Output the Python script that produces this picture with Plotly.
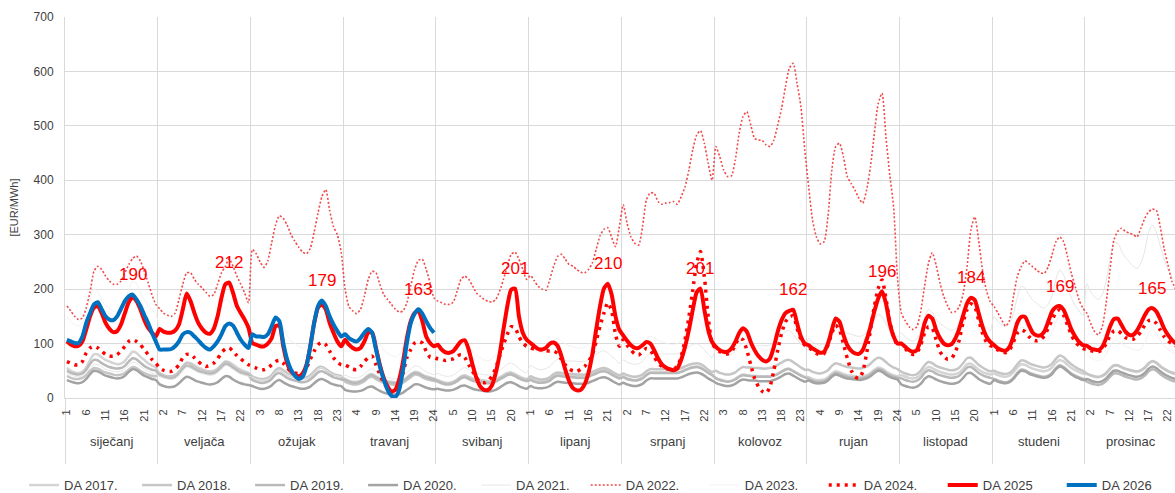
import plotly.graph_objects as go

months = ["siječanj", "veljača", "ožujak", "travanj", "svibanj", "lipanj",
          "srpanj", "kolovoz", "rujan", "listopad", "studeni", "prosinac"]
hours = list(range(1, 25))

da_2017 = [
    [55,50,47,46,48,56,70,80,80,75,70,67,64,62,63,68,77,85,83,76,70,64,60,56],
    [45,41,39,38,40,47,58,65,64,60,56,53,50,49,50,54,61,67,66,61,56,52,49,46],
    [38,35,33,33,35,40,48,52,48,43,40,38,36,35,36,40,47,54,56,52,47,43,41,39],
    [35,32,30,30,32,36,42,44,40,36,33,31,30,29,30,33,38,44,48,47,43,40,38,36],
    [33,30,28,28,30,34,40,42,39,36,34,33,32,31,32,34,38,42,46,47,44,40,37,35],
    [36,33,31,31,32,35,41,44,43,42,41,41,40,40,40,42,45,48,51,52,50,46,42,39],
    [40,36,34,33,34,37,43,47,47,47,47,47,47,47,47,49,52,55,57,58,56,52,47,43],
    [37,34,32,31,32,35,40,43,42,41,41,40,40,40,40,42,45,49,53,54,50,46,42,39],
    [38,35,33,33,34,38,45,49,47,44,42,41,40,39,40,42,46,52,56,54,49,45,42,40],
    [42,39,37,36,38,43,52,57,55,51,48,46,44,43,44,47,54,62,63,58,52,48,45,43],
    [45,42,40,39,41,47,56,62,61,57,54,52,50,49,51,56,65,70,67,61,55,51,48,45],
    [44,41,39,38,40,45,53,59,59,56,53,51,49,48,50,55,63,67,64,58,53,49,46,44],
]
da_2018 = [
    [40,37,35,35,37,42,50,55,54,50,47,45,43,42,43,46,52,57,55,50,46,43,41,40],
    [45,42,40,40,42,48,58,64,62,57,53,50,48,47,48,52,60,66,64,58,53,49,47,45],
    [40,37,35,35,37,42,51,55,51,46,42,40,38,37,38,42,49,56,57,53,48,44,42,40],
    [30,27,25,25,27,31,37,39,35,31,28,26,25,24,25,28,33,38,43,42,38,35,33,31],
    [32,29,27,27,29,33,38,40,37,34,32,31,30,29,30,32,36,40,44,45,42,38,35,33],
    [40,37,35,34,35,38,44,47,46,45,44,44,43,43,43,45,48,51,54,55,53,49,45,42],
    [45,42,40,39,40,43,49,53,53,53,53,53,53,53,53,55,58,61,63,64,62,58,52,48],
    [50,46,44,43,44,47,53,57,56,56,55,55,54,54,55,57,61,65,69,70,66,61,56,52],
    [52,48,46,45,47,51,59,64,62,59,57,56,55,54,55,58,63,70,74,72,66,60,56,53],
    [48,45,43,42,44,50,60,66,64,59,56,54,52,51,52,56,64,73,74,68,61,56,52,49],
    [50,47,45,44,46,52,62,69,68,64,61,59,57,56,58,63,72,78,75,68,62,57,53,50],
    [45,42,40,39,41,46,54,60,60,57,54,52,50,49,51,56,64,68,65,59,54,50,47,45],
]
da_2019 = [
    [50,46,44,43,45,52,63,70,69,64,60,57,55,54,55,59,67,73,71,65,59,55,52,50],
    [42,39,37,36,38,44,53,59,57,53,49,47,45,44,45,49,56,62,60,55,50,46,44,42],
    [33,30,28,28,30,35,43,46,42,37,34,32,30,29,30,34,40,47,49,46,42,38,36,34],
    [33,30,28,28,30,34,40,42,38,34,31,29,28,27,28,31,36,42,46,45,41,38,36,34],
    [30,27,25,25,27,31,36,38,35,32,30,29,28,27,28,30,34,38,42,43,40,36,33,31],
    [33,30,28,28,29,32,38,41,40,39,38,38,37,37,37,39,42,45,48,49,47,43,39,36],
    [38,35,33,32,33,36,42,46,46,46,46,46,46,46,46,48,51,54,56,57,55,51,46,42],
    [36,33,31,30,31,34,39,42,41,40,40,39,39,39,39,41,44,48,52,53,49,45,41,38],
    [35,32,30,30,31,35,42,46,44,41,39,38,37,36,37,39,43,49,53,51,46,42,39,37],
    [36,33,31,30,32,37,46,51,49,45,42,40,38,37,38,41,48,56,57,52,46,42,39,37],
    [35,32,30,29,31,37,46,52,51,47,44,42,40,39,41,46,55,60,57,51,45,41,38,35],
    [30,27,25,24,26,31,39,45,45,42,39,37,35,34,36,41,49,53,50,44,39,35,32,30],
]
da_2020 = [
    [33,30,28,27,29,35,44,50,49,45,41,39,37,36,37,41,48,53,51,46,41,38,35,33],
    [25,22,20,20,22,27,34,39,37,33,30,28,26,25,26,29,35,40,39,34,30,27,25,24],
    [22,19,17,17,19,23,30,33,29,25,22,20,18,17,18,21,27,33,35,32,28,25,23,22],
    [15,13,12,12,13,16,20,21,17,13,10,8,7,6,7,10,15,20,25,25,22,19,17,16],
    [17,15,14,14,15,18,22,23,20,17,15,14,13,12,13,15,19,24,28,29,26,22,19,17],
    [22,19,18,18,19,22,27,30,29,28,27,27,26,26,26,28,31,34,37,38,36,32,28,25],
    [28,25,23,22,23,26,32,36,36,36,36,36,36,36,36,38,41,44,46,47,45,41,36,32],
    [28,25,23,22,23,26,31,34,33,32,32,31,31,31,31,33,36,40,44,45,41,37,33,30],
    [32,29,27,27,28,32,39,43,41,38,36,35,34,33,34,36,40,46,50,48,43,39,36,34],
    [25,22,20,19,21,26,35,40,38,34,31,29,27,26,27,30,37,45,46,41,35,31,28,26],
    [33,30,28,27,29,35,44,50,49,45,42,40,38,37,39,44,53,58,55,49,43,39,36,33],
    [35,32,30,29,31,36,44,50,50,47,44,42,40,39,41,46,54,58,55,49,44,40,37,35],
]
da_2021 = [
    [45,42,40,39,41,47,56,62,61,57,53,51,49,48,49,53,60,66,64,58,53,49,46,44],
    [40,37,35,34,36,42,51,57,55,51,47,45,43,42,43,47,54,60,58,53,48,44,42,40],
    [38,35,33,33,35,40,48,52,48,43,40,38,36,35,36,40,47,54,56,52,47,43,41,39],
    [42,39,37,37,39,44,51,54,49,44,40,38,36,35,36,40,46,53,59,58,53,48,45,43],
    [45,42,40,40,42,47,53,56,52,48,45,44,43,42,43,46,51,56,62,64,60,54,49,46],
    [60,56,53,52,54,58,66,71,70,69,68,68,67,67,67,70,75,80,85,87,83,77,70,64],
    [70,66,63,62,63,67,76,81,81,81,81,81,81,81,81,84,89,94,98,100,96,89,80,74],
    [90,85,81,79,81,86,95,101,99,98,97,96,96,96,97,100,107,115,122,124,117,108,99,93],
    [110,103,99,97,100,108,124,133,129,123,119,117,115,113,115,120,130,145,155,150,138,126,118,112],
    [120,112,107,104,109,122,148,163,157,145,137,132,127,124,127,137,157,182,186,170,152,139,129,123],
    [150,140,134,131,137,155,185,205,202,190,180,174,168,165,172,188,218,236,226,204,184,170,160,152],
    [210,195,186,181,190,215,255,285,285,270,258,250,242,238,248,270,305,318,305,280,255,236,222,212],
]
da_2022 = [
    [169,160,150,144,147,166,195,233,242,236,224,215,209,209,215,230,245,256,261,252,233,212,190,172],
    [164,156,152,150,156,181,209,230,230,218,209,202,194,187,190,209,230,242,256,242,224,209,193,175],
    [273,265,250,240,252,285,318,335,330,318,300,288,277,268,265,275,305,340,370,383,345,315,300,268],
    [200,168,160,155,163,187,218,233,230,209,190,181,172,163,158,160,175,206,236,253,255,236,212,184],
    [178,175,172,172,176,196,218,224,218,206,193,187,181,178,176,181,196,218,242,264,268,255,236,218],
    [225,215,205,200,198,218,242,260,264,255,245,242,236,231,230,236,248,273,298,310,313,295,278,315],
    [355,321,296,284,281,315,364,377,376,361,356,358,359,361,356,370,388,419,456,483,491,468,431,400],
    [462,443,419,407,408,437,486,517,526,502,477,474,473,465,462,474,502,532,572,606,615,578,535,456],
    [388,327,296,283,287,333,419,462,468,443,407,394,382,367,358,382,425,486,541,560,480,410,350,220],
    [156,142,131,126,131,159,205,247,267,244,211,186,169,157,159,168,192,241,309,333,290,235,198,177],
    [168,156,143,132,143,186,223,241,252,247,241,235,230,229,241,263,287,296,287,260,229,205,180,165],
    [156,137,122,116,131,174,235,290,306,312,306,303,300,296,312,330,342,347,345,315,275,245,215,200],
]
da_2023 = [
    [150,140,135,132,138,155,185,200,195,180,170,165,160,158,162,175,200,215,210,195,180,170,162,155],
    [130,122,118,116,120,135,160,172,165,150,140,135,130,128,132,145,168,182,178,165,152,144,138,132],
    [110,102,98,96,100,112,135,142,130,115,105,100,95,92,95,108,128,145,148,138,125,117,112,108],
    [105,98,95,93,96,105,122,125,112,98,88,82,78,76,80,92,110,128,138,135,125,115,110,106],
    [90,84,80,79,82,90,103,105,95,85,78,74,70,68,72,80,95,110,122,125,115,105,98,93],
    [95,88,84,83,85,92,105,110,105,100,96,94,92,91,93,98,108,120,132,138,130,118,108,100],
    [100,92,88,86,88,95,108,114,110,106,103,101,99,98,100,106,118,132,145,150,140,125,113,105],
    [95,88,84,82,84,91,103,108,103,98,94,91,89,88,90,97,110,125,140,145,135,120,108,100],
    [105,98,94,92,95,104,120,128,122,115,110,107,104,102,105,112,125,142,152,148,135,122,113,107],
    [100,93,89,87,90,100,118,128,124,116,110,106,102,100,104,114,132,150,152,140,126,115,107,102],
    [100,94,90,88,91,102,120,130,128,120,114,110,106,104,108,120,140,152,146,132,120,111,105,101],
    [80,74,70,68,71,80,95,105,105,100,95,92,89,87,90,100,118,125,118,106,96,89,84,81],
]
da_2024 = [
    [67,64,61,61,67,83,92,95,92,86,80,77,77,80,86,95,104,107,104,98,89,80,71,64],
    [55,51,49,49,53,61,74,80,80,74,67,61,58,60,64,72,83,90,92,86,78,72,66,61],
    [58,55,52,52,55,61,67,69,64,55,49,46,45,47,55,71,86,98,102,98,86,74,66,61],
    [61,57,53,52,58,67,74,77,61,43,28,18,12,12,25,46,74,89,101,104,101,86,75,74],
    [72,71,69,71,72,77,80,74,61,49,37,29,28,31,40,55,77,98,117,131,129,113,101,95],
    [92,90,89,88,87,86,86,82,71,61,53,50,49,53,58,67,80,104,132,156,175,160,117,95],
    [107,97,88,81,79,85,91,88,76,64,58,54,53,53,58,76,107,149,198,247,269,223,149,100],
    [91,85,82,81,85,97,110,107,88,61,36,21,12,9,21,51,88,119,140,149,151,128,108,97],
    [94,87,82,79,82,97,119,134,125,100,73,51,39,36,48,82,125,168,201,217,183,140,113,97],
    [100,91,83,80,83,97,119,131,128,107,85,76,71,73,85,107,140,162,173,168,143,119,103,96],
    [94,88,85,83,88,103,119,125,122,113,107,105,107,114,128,143,157,162,152,134,116,103,96,91],
    [89,87,85,85,89,100,114,123,124,118,111,108,108,113,122,134,142,143,137,125,113,105,100,96],
]
da_2025 = [
    [104,98,95,96,104,126,150,166,169,156,138,127,121,123,135,156,176,184,178,163,144,129,120,113],
    [127,122,120,120,124,135,163,192,178,156,138,127,120,118,127,150,184,209,212,193,169,156,144,129],
    [101,98,95,95,100,110,132,133,95,64,49,43,40,45,61,95,138,166,172,163,138,120,104,95],
    [107,98,92,89,92,104,120,120,92,61,37,21,12,15,34,67,110,141,156,160,141,113,101,95],
    [98,89,84,83,86,95,104,106,89,61,37,21,15,15,23,46,80,126,169,199,201,150,120,107],
    [101,95,90,89,92,100,102,96,77,52,31,18,14,15,25,46,80,126,169,201,210,190,150,125],
    [115,105,97,92,92,97,103,100,88,73,62,56,53,51,54,70,94,125,162,194,201,162,125,103],
    [94,88,85,85,91,103,119,128,122,103,88,77,70,67,73,94,122,143,156,160,162,137,113,100],
    [97,91,87,83,85,100,125,146,140,116,97,87,82,81,88,107,131,159,183,196,174,137,113,100],
    [100,94,88,85,88,107,137,151,146,125,110,100,97,99,110,128,152,174,184,180,156,131,113,103],
    [97,91,88,87,94,113,138,149,149,134,120,115,115,122,140,159,167,169,162,145,126,113,103,97],
    [96,91,89,88,94,110,131,145,146,134,122,116,116,124,137,152,163,165,159,145,128,116,107,100],
]
da_2026 = [
    [107,104,101,101,113,138,156,172,176,163,150,144,143,150,164,178,187,190,181,169,153,138,120,104],
    [89,89,89,90,95,104,117,121,120,113,106,98,92,89,95,104,117,132,137,133,120,107,98,92],
    [117,113,113,112,117,132,148,141,101,71,52,41,35,39,58,95,138,169,179,169,150,135,123,113],
    [117,110,106,104,110,120,127,120,89,58,34,15,4,2,15,52,101,138,155,163,155,141,129,120],
]

label_values = [190, 212, 179, 163, 201, 210, 201, 162, 196, 184, 169, 165]
label_hours = [18, 19, 19, 20, 21, 21, 21, 21, 20, 19, 18, 18]

y_ticks = [0, 100, 200, 300, 400, 500, 600, 700]

n_h = len(hours)
x_all = list(range(len(months) * n_h))
hour_text = [h for _ in months for h in hours]


def flat(m):
    return [v for month in m for v in month]


series = [
    ("DA 2017.", da_2017, dict(color="#d4d4d4", width=2.5), "legend"),
    ("DA 2018.", da_2018, dict(color="#c6c6c6", width=2.5), "legend"),
    ("DA 2019.", da_2019, dict(color="#b9b9b9", width=2.5), "legend"),
    ("DA 2020.", da_2020, dict(color="#a3a3a3", width=2.5), "legend"),
    ("DA 2021.", da_2021, dict(color="#e6e6e6", width=1), "legend"),
    ("DA 2022.", da_2022, dict(color="#f04a4a", width=1.6, dash="2px,2px"), "legend2"),
    ("DA 2023.", da_2023, dict(color="#f2f2f2", width=1), "legend2"),
    ("DA 2024.", da_2024, dict(color="#ff0000", width=3.5, dash="3px,5px"), "legend2"),
    ("DA 2025", da_2025, dict(color="#ff0000", width=4), "legend2"),
    ("DA 2026", da_2026, dict(color="#0070c0", width=4), "legend2"),
]

fig = go.Figure()
for name, data, line, leg in series:
    y = flat(data)
    fig.add_trace(go.Scatter(
        x=x_all[:len(y)], y=y, mode="lines", name=name, legend=leg,
        line=dict(shape="spline", smoothing=0.6, **line),
        hoverinfo="skip",
    ))

annotations = []
for m, (val, hr) in enumerate(zip(label_values, label_hours)):
    annotations.append(dict(
        x=m * n_h + hr - 1, y=val, xref="x", yref="y", text=str(val),
        showarrow=False, yshift=20, yanchor="middle",
        font=dict(family="Liberation Sans, Arial", size=17, color="#ff0000"),
    ))
for m, name in enumerate(months):
    annotations.append(dict(
        x=m * n_h + (n_h - 1) / 2, y=-0.113, xref="x", yref="paper", text=name,
        showarrow=False, yanchor="middle",
        font=dict(family="Liberation Sans, Arial", size=13, color="#404040"),
    ))

tick_idx = [i for i in x_all if i % 5 == 0]
month_edges = [m * n_h - 0.5 for m in range(len(months) + 1)]

legend_common = dict(
    orientation="h", xref="container", yref="container",
    y=0.016, xanchor="left", yanchor="middle",
    font=dict(size=13, color="#404040"),
    entrywidthmode="pixels", traceorder="normal",
    bgcolor="rgba(0,0,0,0)",
)

fig.update_layout(
    width=1175, height=493,
    margin=dict(l=65, r=0, t=17, b=95, autoexpand=False),
    paper_bgcolor="white", plot_bgcolor="white",
    font=dict(family="Liberation Sans, Arial", color="#404040"),
    showlegend=True,
    legend=dict(x=0.0205, entrywidth=68, **legend_common),
    legend2=dict(x=0.4985, entrywidth=74, **legend_common),
    annotations=annotations,
    hovermode=False,
)
fig.update_xaxes(
    range=[-0.5, 286.83], automargin=False,
    tickvals=tick_idx, ticktext=[str(hour_text[i]) for i in tick_idx],
    tickangle=-90, tickfont=dict(size=11, color="#404040"),
    showgrid=False, zeroline=False,
    showline=True, linecolor="#d9d9d9", linewidth=1,
    ticks="outside", ticklen=6, tickcolor="rgba(0,0,0,0)",
    minor=dict(tickvals=month_edges, ticks="outside", ticklen=65,
               tickcolor="#d9d9d9", tickwidth=1,
               showgrid=True, gridcolor="#d9d9d9", gridwidth=1),
)
fig.update_yaxes(
    range=[0, 700], tickvals=y_ticks, automargin=False,
    tickfont=dict(size=12, color="#404040"),
    showgrid=True, gridcolor="#d9d9d9", gridwidth=1,
    zeroline=False, showline=True, linecolor="#d9d9d9",
    ticks="outside", ticklen=8, tickcolor="rgba(0,0,0,0)",
    title=dict(text="[EUR/MWh]", font=dict(size=11, color="#404040"), standoff=12),
)

fig.write_html(
    "out.html",
    config={"displayModeBar": False, "staticPlot": True},
    post_script="document.body.style.margin='0';document.body.style.overflow='hidden';",
)
